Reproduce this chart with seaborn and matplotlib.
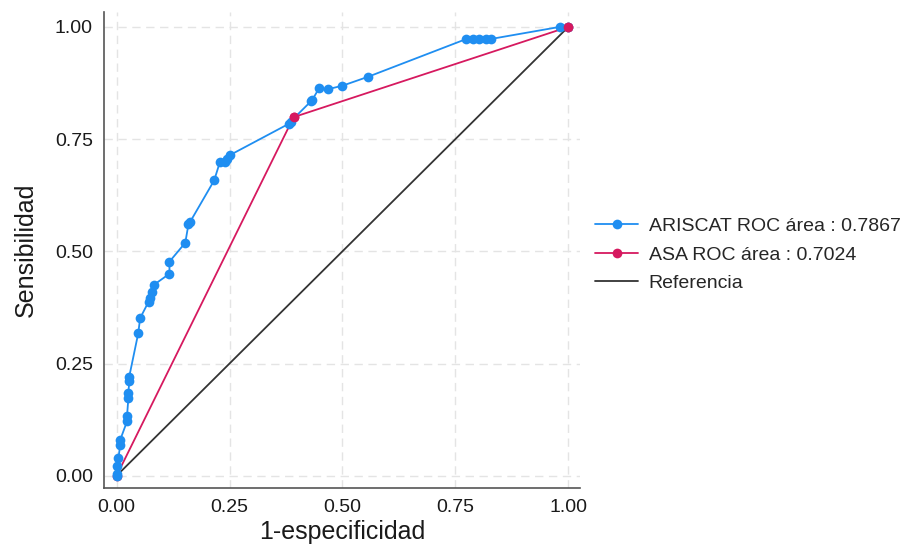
"""Curvas ROC: ARISCAT vs ASA, con línea de referencia."""

import pandas as pd
import matplotlib
matplotlib.use("Agg")
import matplotlib.pyplot as plt
import seaborn as sns

# ARISCAT (1-especificidad, sensibilidad)
ariscat_fpr = [0.000, 0.000, 0.000, 0.004, 0.008, 0.008, 0.023, 0.023, 0.026, 0.026,
               0.028, 0.028, 0.048, 0.052, 0.071, 0.074, 0.078, 0.082, 0.117, 0.117,
               0.152, 0.159, 0.163, 0.216, 0.229, 0.240, 0.245, 0.252, 0.381, 0.385,
               0.430, 0.433, 0.448, 0.467, 0.500, 0.557, 0.774, 0.788, 0.803, 0.818,
               0.828, 0.981, 1.000]
ariscat_tpr = [0.000, 0.004, 0.021, 0.039, 0.069, 0.080, 0.121, 0.132, 0.173, 0.184,
               0.210, 0.221, 0.318, 0.351, 0.388, 0.397, 0.410, 0.425, 0.450, 0.477,
               0.519, 0.560, 0.566, 0.658, 0.700, 0.700, 0.705, 0.715, 0.784, 0.789,
               0.834, 0.837, 0.863, 0.861, 0.869, 0.889, 0.973, 0.973, 0.973, 0.973,
               0.973, 1.000, 1.000]

# ASA
asa_fpr = [0.000, 0.392, 1.000]
asa_tpr = [0.000, 0.799, 1.000]

ref = [0.0, 1.0]

ticks = [0.0, 0.25, 0.5, 0.75, 1.0]
tick_labels = ["0.00", "0.25", "0.50", "0.75", "1.00"]

labels = ["ARISCAT ROC área : 0.7867", "ASA ROC área : 0.7024", "Referencia"]

BLUE = "#1f8ef1"
RED = "#d6195f"

sns.set_theme(style="white")
plt.rcParams["font.family"] = ["Liberation Sans", "DejaVu Sans"]

fig = plt.figure(figsize=(9.12, 5.5), dpi=100)
ax = fig.add_axes([0.114, 0.113, 0.522, 0.865])

df_a = pd.DataFrame({"fpr": ariscat_fpr, "tpr": ariscat_tpr})
df_s = pd.DataFrame({"fpr": asa_fpr, "tpr": asa_tpr})
df_r = pd.DataFrame({"fpr": ref, "tpr": ref})

sns.lineplot(data=df_r, x="fpr", y="tpr", ax=ax, color="#333333", lw=1.3,
             sort=False, estimator=None, label=labels[2], zorder=2)
sns.lineplot(data=df_s, x="fpr", y="tpr", ax=ax, color=RED, lw=1.3, marker="o",
             markersize=7, markeredgewidth=0, sort=False, estimator=None,
             label=labels[1], zorder=3)
sns.lineplot(data=df_a, x="fpr", y="tpr", ax=ax, color=BLUE, lw=1.3, marker="o",
             markersize=7, markeredgewidth=0, sort=False, estimator=None,
             label=labels[0], zorder=4)
# el punto rojo de (1,1) queda encima
ax.plot(asa_fpr[-1:], asa_tpr[-1:], "o", color=RED, ms=7, mew=0, zorder=5)
ax.plot(asa_fpr[1:2], asa_tpr[1:2], "o", color=RED, ms=7, mew=0, zorder=5)

ax.set_xlim(-0.028, 1.026)
ax.set_ylim(-0.027, 1.033)
ax.set_xticks(ticks)
ax.set_xticklabels(tick_labels)
ax.set_yticks(ticks)
ax.set_yticklabels(tick_labels)
ax.tick_params(axis="both", direction="out", length=5, width=1, color="#555555",
               labelsize=14, labelcolor="#1a1a1a", pad=3)
ax.grid(True, linestyle=(0, (6, 4)), color="#e4e4e4", lw=1)

for s in ["top", "right"]:
    ax.spines[s].set_visible(False)
for s in ["left", "bottom"]:
    ax.spines[s].set_color("#555555")
    ax.spines[s].set_linewidth(1.2)

ax.set_xlabel("1-especificidad", fontsize=18, color="#1a1a1a", labelpad=3)
ax.set_ylabel("Sensibilidad", fontsize=18, color="#1a1a1a", labelpad=12)

handles, labs = ax.get_legend_handles_labels()
order = [labs.index(l) for l in labels]
ax.legend([handles[i] for i in order], [labs[i] for i in order],
          loc="center left", bbox_to_anchor=(0.995, 0.49), frameon=False,
          fontsize=14, handlelength=2.2, handletextpad=0.55, labelspacing=0.55)

plt.savefig("out.png", dpi=100)
plt.close()
